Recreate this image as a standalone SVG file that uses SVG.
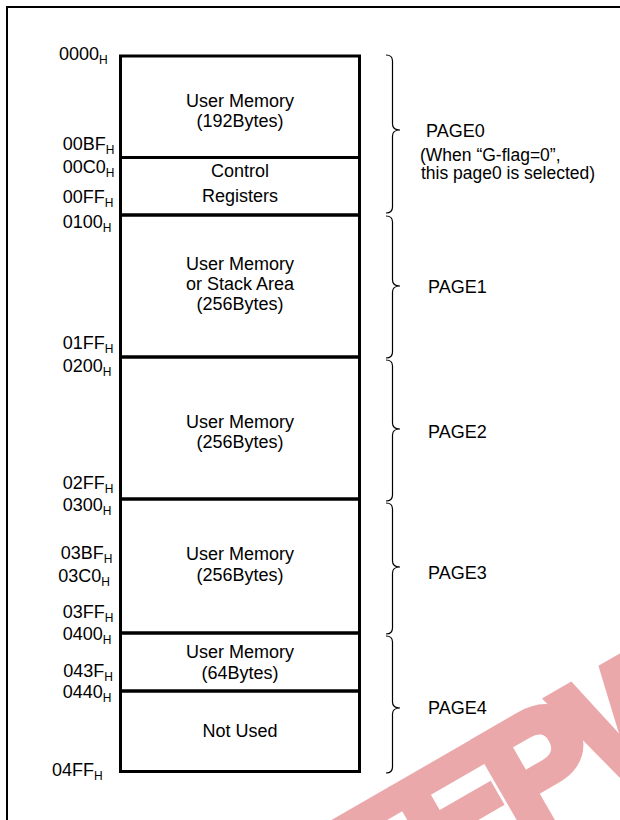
<svg xmlns="http://www.w3.org/2000/svg" width="620" height="820" viewBox="0 0 620 820">
<style>
text{font-family:"Liberation Sans",Arial,sans-serif;fill:#000}
.t{font-size:18px}
.c{text-anchor:middle}
.s{font-size:12px}
.n{font-size:17.5px}
.box{fill:none;stroke:#000;stroke-width:3}
.br{fill:none;stroke:#000;stroke-width:1.2}
.wm{font-size:160px;font-weight:bold;letter-spacing:-12px;fill:#eba8aa;stroke:#eba8aa;stroke-width:10;stroke-linejoin:miter}
</style>
<rect width="620" height="820" fill="#fff"/>
<g id="watermark">
<text class="wm" transform="translate(359,937) rotate(-30)">EEPW</text>
</g>
<path d="M7 820 V7 H620" fill="none" stroke="#000" stroke-width="2"/>
<g id="memory-map">
<g id="box0"><rect class="box" x="120.5" y="56" width="239" height="101.5"/>
<text class="t c" x="240" y="107">User Memory</text><text class="t c" x="240" y="127">(192Bytes)</text></g>
<g id="box1"><rect class="box" x="120.5" y="157.5" width="239" height="57.5"/>
<text class="t c" x="240" y="177">Control</text><text class="t c" x="240" y="202">Registers</text></g>
<g id="box2"><rect class="box" x="120.5" y="215" width="239" height="142"/>
<text class="t c" x="240" y="270">User Memory</text><text class="t c" x="240" y="290">or Stack Area</text><text class="t c" x="240" y="310">(256Bytes)</text></g>
<g id="box3"><rect class="box" x="120.5" y="357" width="239" height="142"/>
<text class="t c" x="240" y="428">User Memory</text><text class="t c" x="240" y="448">(256Bytes)</text></g>
<g id="box4"><rect class="box" x="120.5" y="499" width="239" height="134"/>
<text class="t c" x="240" y="560">User Memory</text><text class="t c" x="240" y="581">(256Bytes)</text></g>
<g id="box5"><rect class="box" x="120.5" y="633" width="239" height="58"/>
<text class="t c" x="240" y="658">User Memory</text><text class="t c" x="240" y="679">(64Bytes)</text></g>
<g id="box6"><rect class="box" x="120.5" y="691" width="239" height="80.5"/>
<text class="t c" x="240" y="737">Not Used</text></g>
</g>
<g id="addresses">
<text class="t" x="59" y="60">0000<tspan class="s" dy="4">H</tspan></text>
<text class="t" x="62.7" y="150">00BF<tspan class="s" dy="4">H</tspan></text>
<text class="t" x="62.7" y="173">00C0<tspan class="s" dy="4">H</tspan></text>
<text class="t" x="62.7" y="203">00FF<tspan class="s" dy="4">H</tspan></text>
<text class="t" x="62.7" y="228">0100<tspan class="s" dy="4">H</tspan></text>
<text class="t" x="62.7" y="349">01FF<tspan class="s" dy="4">H</tspan></text>
<text class="t" x="62.7" y="372">0200<tspan class="s" dy="4">H</tspan></text>
<text class="t" x="62.7" y="489">02FF<tspan class="s" dy="4">H</tspan></text>
<text class="t" x="62.7" y="511">0300<tspan class="s" dy="4">H</tspan></text>
<text class="t" x="60.7" y="559">03BF<tspan class="s" dy="4">H</tspan></text>
<text class="t" x="58.3" y="582">03C0<tspan class="s" dy="4">H</tspan></text>
<text class="t" x="62.7" y="618">03FF<tspan class="s" dy="4">H</tspan></text>
<text class="t" x="62.7" y="640">0400<tspan class="s" dy="4">H</tspan></text>
<text class="t" x="63.3" y="677">043F<tspan class="s" dy="4">H</tspan></text>
<text class="t" x="62.7" y="698">0440<tspan class="s" dy="4">H</tspan></text>
<text class="t" x="52" y="776">04FF<tspan class="s" dy="4">H</tspan></text>
</g>
<g id="braces">
<path class="br" d="M386 55 Q392.5 55 392.5 61 V124 Q392.5 130 400 130 Q392.5 130 392.5 136 V207 Q392.5 213 386 213"/>
<path class="br" d="M386 216 Q392.5 216 392.5 222 V280 Q392.5 286 400 286 Q392.5 286 392.5 292 V352 Q392.5 358 386 358"/>
<path class="br" d="M386 360 Q392.5 360 392.5 366 V423 Q392.5 429 400 429 Q392.5 429 392.5 435 V495 Q392.5 501 386 501"/>
<path class="br" d="M386 503 Q392.5 503 392.5 509 V561 Q392.5 567 400 567 Q392.5 567 392.5 573 V628 Q392.5 634 386 634"/>
<path class="br" d="M386 636 Q392.5 636 392.5 642 V702 Q392.5 708 400 708 Q392.5 708 392.5 714 V767 Q392.5 773 386 773"/>
</g>
<g id="pages">
<g id="page0"><text class="t" x="426" y="137">PAGE0</text>
<text class="n" x="420" y="161">(When “G-flag=0”,</text>
<text class="n" x="421" y="179">this page0 is selected)</text></g>
<g id="page1"><text class="t" x="428" y="293">PAGE1</text></g>
<g id="page2"><text class="t" x="428" y="438">PAGE2</text></g>
<g id="page3"><text class="t" x="428" y="579">PAGE3</text></g>
<g id="page4"><text class="t" x="428" y="714">PAGE4</text></g>
</g>
</svg>
